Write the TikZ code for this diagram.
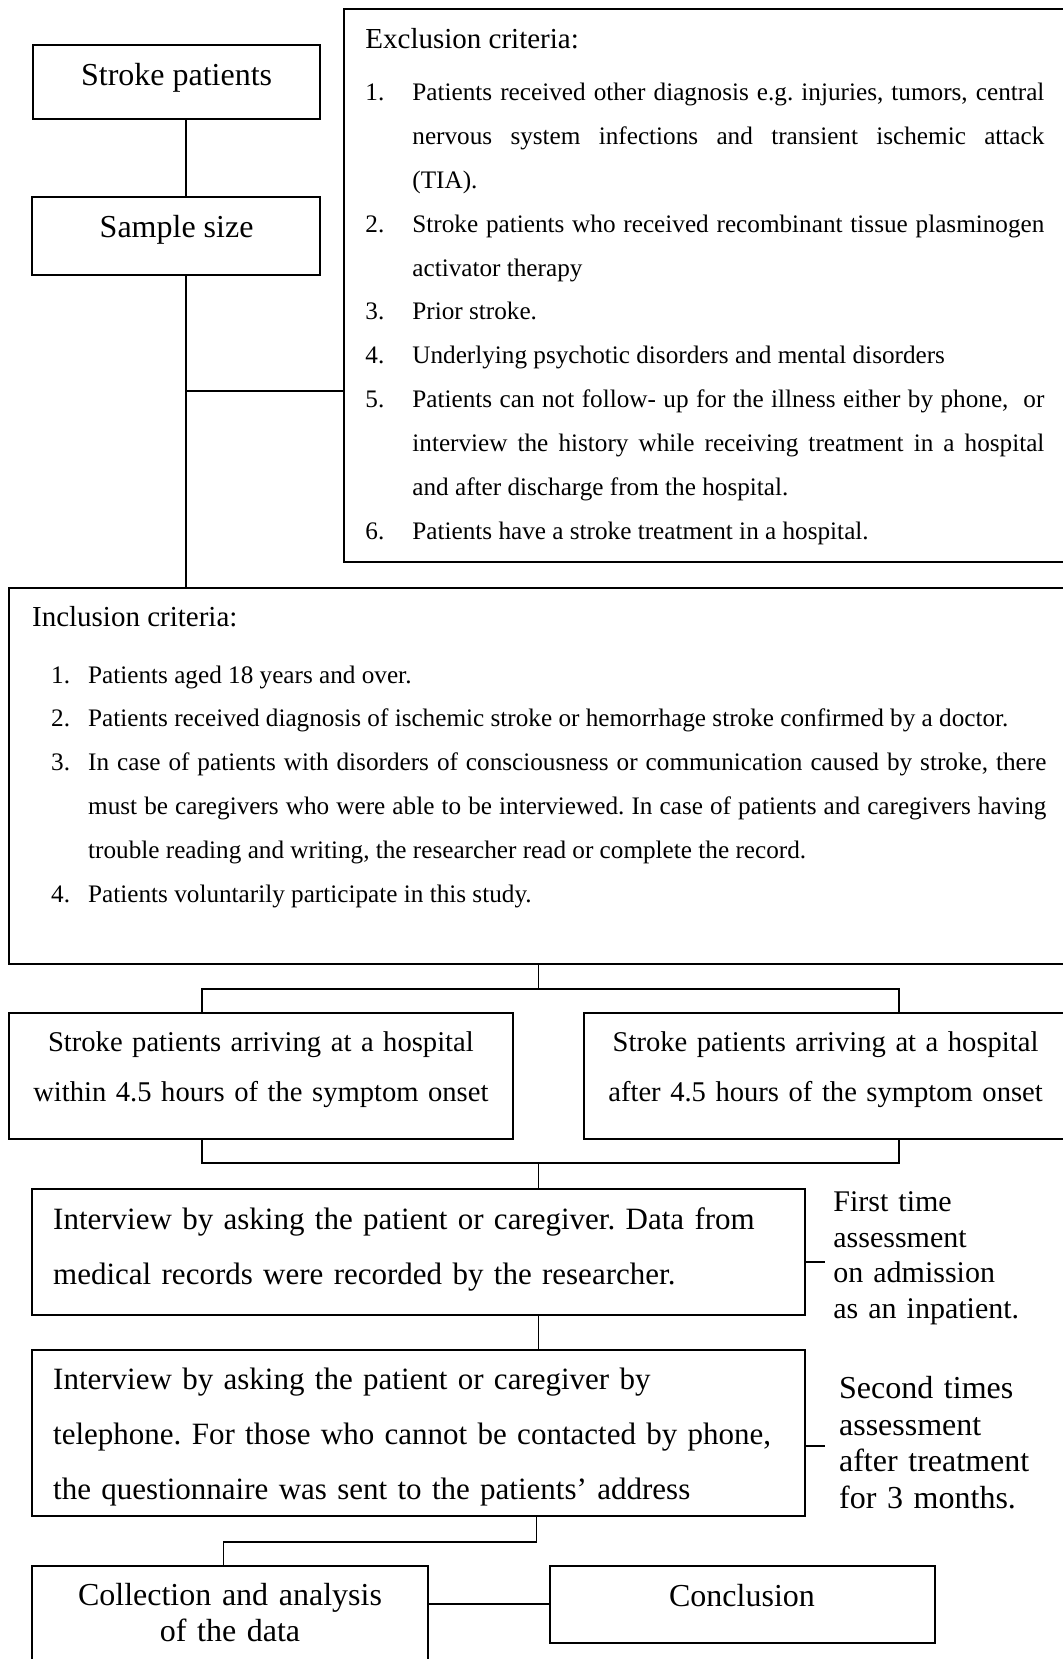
\documentclass[tikz,border=0pt]{standalone}
\usepackage{fontspec}
\setmainfont{Liberation Serif}
\usetikzlibrary{fit,positioning}
\frenchspacing
\hyphenpenalty=10000
\exhyphenpenalty=10000
\tolerance=9999
\tikzset{
  bx/.style={draw,line width=1pt,inner sep=0pt},
  ln/.style={line width=0.8pt},
  big/.style={inner sep=0pt,font=\fontsize{16}{27.5}\selectfont},
  mid/.style={inner sep=0pt,font=\fontsize{14.5}{25}\selectfont},
  lst/.style={inner sep=0pt,anchor=base west,align=justify,font=\fontsize{12.6}{21.9}\selectfont},
}
\newcommand{\butir}[3]{\hangindent=#1\hangafter=1\noindent\makebox[#1][l]{#2}#3\par}

\begin{document}
\begin{tikzpicture}[x=0.5pt,y=-0.5pt]
  \useasboundingbox (0,0) rectangle (1062,1659);
  % top boxes
  \node[bx,fit={(33,45)(320,119)}] (sp) {};
  \node[big,anchor=base] (sptx) at (176.6,86) {Stroke patients};
  \node[bx,fit={(32,197)(320,275)}] (ss) {};
  \node[big,anchor=base] (sstx) at (176.6,237.3) {Sample size};
  % exclusion
  \node[bx,fit={(343.5,9.3)(1080,561.7)}] (exc) {};
  \node[mid,anchor=base west] (exctl) at (365,48.3) {Exclusion criteria:};
  \node[lst,text width=339.5pt] (exls) at (365,101) {%
    \butir{23.5pt}{1.}{Patients received other diagnosis e.g. injuries, tumors, central\linebreak nervous system infections and transient ischemic attack\linebreak (TIA).}%
    \butir{23.5pt}{2.}{Stroke patients who received recombinant tissue plasminogen\linebreak activator therapy}%
    \butir{23.5pt}{3.}{Prior stroke.}%
    \butir{23.5pt}{4.}{Underlying psychotic disorders and mental disorders}%
    \butir{23.5pt}{5.}{Patients can not follow- up for the illness either by phone,\ \ or\linebreak interview the history while receiving treatment in a hospital\linebreak and after discharge from the hospital.}%
    \butir{23.5pt}{6.}{Patients have a stroke treatment in a hospital.}};
  % inclusion
  \node[bx,fit={(9,588)(1080,964)}] (inc) {};
  \node[mid,anchor=base west] (inctl) at (31.7,626.7) {Inclusion criteria:};
  \node[lst,text width=497.6pt] (inls) at (50.8,683) {%
    \butir{18.5pt}{1.}{Patients aged 18 years and over.}%
    \butir{18.5pt}{2.}{Patients received diagnosis of ischemic stroke or hemorrhage stroke confirmed by a doctor.}%
    \butir{18.5pt}{3.}{In case of patients with disorders of consciousness or communication caused by stroke, there\linebreak must be caregivers who were able to be interviewed. In case of patients and caregivers having\linebreak trouble reading and writing, the researcher read or complete the record.}%
    \butir{18.5pt}{4.}{Patients voluntarily participate in this study.}};
  % arrival groups
  \node[bx,fit={(9,1013)(513,1138.7)}] (erl) {};
  \node[mid,text width=250pt,align=center,anchor=base,font=\fontsize{14.3}{25}\selectfont] (erltx) at (260.9,1051.7)
    {Stroke patients arriving at a hospital\\within 4.5 hours of the symptom onset};
  \node[bx,fit={(584,1013)(1068,1138.7)}] (lat) {};
  \node[mid,text width=250pt,align=center,anchor=base,font=\fontsize{14.3}{25}\selectfont] (lattx) at (825.6,1051.7)
    {Stroke patients arriving at a hospital\\after 4.5 hours of the symptom onset};
  % interviews
  \node[bx,fit={(31.8,1189.3)(805,1314.7)}] (iv1) {};
  \node[big,text width=380pt,align=left,anchor=base west,font=\fontsize{15.5}{27.5}\selectfont] (iv1tx) at (52.8,1229.3)
    {Interview by asking the patient or caregiver. Data from\\medical records were recorded by the researcher.};
  \node[bx,fit={(31.8,1350)(805,1516)}] (iv2) {};
  \node[big,text width=380pt,align=left,anchor=base west,font=\fontsize{15.5}{27.5}\selectfont] (iv2tx) at (52.8,1389.3)
    {Interview by asking the patient or caregiver by\\telephone. For those who cannot be contacted by phone,\\the questionnaire was sent to the patients’ address};
  \node[inner sep=0pt,text width=120pt,align=left,anchor=base west,font=\fontsize{15}{17.8}\selectfont] (as1) at (833,1211.7)
    {First time\\assessment\\on admission\\as an inpatient.};
  \node[inner sep=0pt,text width=120pt,align=left,anchor=base west,font=\fontsize{16}{18.35}\selectfont] (as2) at (838.7,1398.3)
    {Second times\\assessment\\after treatment\\for 3 months.};
  % last row
  \node[bx,fit={(31.8,1565.7)(428.2,1670)}] (col) {};
  \node[big,text width=200pt,align=center,anchor=base,font=\fontsize{16}{18.4}\selectfont] (coltx) at (230,1605)
    {Collection and analysis\\of the data};
  \node[bx,fit={(550,1565.7)(935,1642.7)}] (con) {};
  \node[big,anchor=base] (contx) at (742,1606) {Conclusion};
  % connectors
  \coordinate (j1) at (186,391);
  \coordinate (ja) at (202,989);
  \coordinate (jb) at (899,989);
  \coordinate (jc) at (538.6,989);
  \coordinate (ka) at (202,1162.7);
  \coordinate (kb) at (899,1162.7);
  \coordinate (kc) at (538.6,1162.7);
  \coordinate (m1) at (536.6,1541.7);
  \coordinate (m2) at (223.6,1541.7);
  \coordinate (t1) at (825,1261.7);
  \coordinate (t2) at (825,1446);
  \draw[ln] (sp.south -| j1) -- (ss.north -| j1);
  \draw[ln] (ss.south -| j1) -- (inc.north -| j1);
  \draw[ln] (j1) -- (j1 -| exc.west);
  \draw[ln] (inc.south -| jc) -- (jc);
  \draw[ln] (erl.north -| ja) -- (ja) -- (jb) -- (lat.north -| jb);
  \draw[ln] (erl.south -| ka) -- (ka) -- (kb) -- (lat.south -| kb);
  \draw[ln] (kc) -- (iv1.north -| kc);
  \draw[ln] (iv1.south -| kc) -- (iv2.north -| kc);
  \draw[ln] (t1 -| iv1.east) -- (t1);
  \draw[ln] (t2 -| iv2.east) -- (t2);
  \draw[ln] (iv2.south -| m1) -- (m1) -- (m2) -- (col.north -| m2);
  \draw[ln] (col.east |- con.west) -- (con.west);
\end{tikzpicture}
\end{document}
